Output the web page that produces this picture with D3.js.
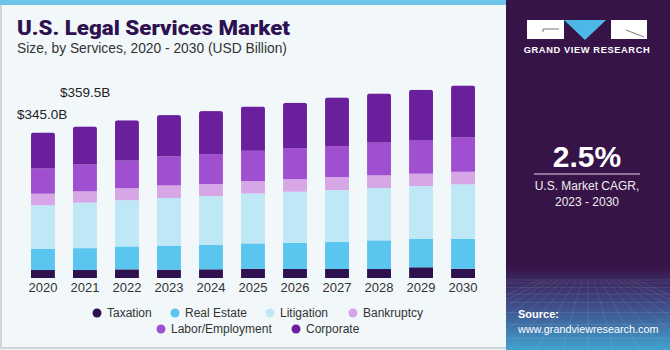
<!DOCTYPE html>
<html>
<head>
<meta charset="utf-8">
<script src="https://cdn.jsdelivr.net/npm/d3@7"></script>
<style>
  html, body { margin: 0; padding: 0; background: #fff; }
  svg { display: block; }
  text { font-family: 'Liberation Sans', Arial, sans-serif; }
</style>
</head>
<body>
<svg id="chart" width="670" height="350"></svg>
<script>
// data (USD Billion)
const years = ['2020', '2021', '2022', '2023', '2024', '2025', '2026', '2027', '2028', '2029', '2030']
const segments = ['Taxation', 'Real Estate', 'Litigation', 'Bankruptcy', 'Labor/Employment', 'Corporate']
const taxation = [18.9, 18.9, 20.5, 19.7, 20.6, 22.0, 21.3, 21.3, 21.3, 25.4, 22.0]
const realEstate = [50.3, 51.9, 54.4, 56.9, 57.6, 60.0, 62.3, 64.0, 68.0, 67.8, 71.1]
const litigation = [103.1, 107.9, 109.6, 113.0, 116.1, 118.5, 120.9, 123.2, 124.0, 124.9, 128.9]
const bankruptcy = [27.6, 26.7, 28.4, 30.0, 28.4, 29.4, 30.1, 30.8, 30.1, 29.2, 29.9]
const laborEmployment = [59.7, 63.7, 65.6, 68.7, 71.1, 71.8, 73.5, 73.5, 77.5, 79.9, 81.5]
const corporate = [85.4, 90.4, 95.5, 97.9, 101.9, 105.0, 107.4, 115.4, 116.8, 119.2, 123.2]
const valueLabels = ['$345.0B', '$359.5B']
const colors = ['#2e1250', '#5ac6ef', '#bfe8f6', '#d6a6e6', '#a14fd1', '#6a1f9c']

const series = [taxation, realEstate, litigation, bankruptcy, laborEmployment, corporate]
const rows = years.map((yr, i) => {
    const row = { year: yr }
    segments.forEach((s, j) => { row[s] = series[j][i] })
    return row
})

const svg = d3.select('#chart')
const defs = svg.append('defs')

// backgrounds
svg.append('rect').attr('width', 670).attr('height', 350).attr('fill', '#f2f8fa')
svg.append('rect').attr('x', 0).attr('y', 0).attr('width', 506).attr('height', 5).attr('fill', '#6cc5e8')
svg.append('line').attr('x1', 1).attr('x2', 1).attr('y1', 5).attr('y2', 348)
    .attr('stroke', '#cfd4d6').attr('stroke-width', 2)
svg.append('line').attr('x1', 0).attr('x2', 506).attr('y1', 348).attr('y2', 348)
    .attr('stroke', '#cfd4d6').attr('stroke-width', 2)

// title
svg.append('text').attr('x', 17).attr('y', 35)
    .style('font-family', "'Roboto', sans-serif").style('font-weight', 900)
    .style('font-size', '19.5px').attr('fill', '#2d1150')
    .attr('textLength', 273).attr('lengthAdjust', 'spacingAndGlyphs')
    .text('U.S. Legal Services Market')
svg.append('text').attr('x', 17).attr('y', 53)
    .style('font-size', '13.8px').attr('fill', '#333')
    .text('Size, by Services, 2020 - 2030 (USD Billion)')

// scales
const x = d3.scaleBand()
    .domain(years)
    .range([10, 496])
    .paddingInner(0.43)
    .paddingOuter(0.5)
const y = d3.scaleLinear()
    .domain([0, 460])
    .range([278, 84])

const stacked = d3.stack().keys(segments)(rows)

// top segment gets rounded corners via clip
years.forEach((yr, i) => {
    const top = stacked[stacked.length - 1][i][1]
    defs.append('clipPath').attr('id', 'clip-' + yr)
        .append('rect')
        .attr('x', x(yr))
        .attr('y', y(top))
        .attr('width', x.bandwidth())
        .attr('height', y(0) - y(top) + 4)
        .attr('rx', 2.5)
})

svg.append('g').selectAll('g')
    .data(stacked)
    .enter().append('g')
    .attr('fill', (d, i) => colors[i])
    .selectAll('rect')
    .data(d => d)
    .enter().append('rect')
    .attr('x', d => x(d.data.year))
    .attr('y', d => y(d[1]))
    .attr('width', x.bandwidth())
    .attr('height', d => y(d[0]) - y(d[1]))
    .attr('clip-path', d => 'url(#clip-' + d.data.year + ')')

// value labels for 2020 and 2021
const totals = rows.map(r => d3.sum(segments, s => r[s]))
svg.append('text').attr('x', 17).attr('y', y(totals[0]) - 14)
    .style('font-size', '13.5px').attr('fill', '#222').text(valueLabels[0])
svg.append('text').attr('x', 60).attr('y', y(totals[1]) - 29)
    .style('font-size', '13.5px').attr('fill', '#222').text(valueLabels[1])

// x axis
const xAxis = svg.append('g')
    .attr('transform', 'translate(0,' + y(0) + ')')
    .call(d3.axisBottom(x).tickSize(0).tickPadding(5))
xAxis.select('.domain').remove()
xAxis.selectAll('text')
    .style('font-family', "'Liberation Sans', Arial, sans-serif")
    .style('font-size', '13px').attr('fill', '#333')

// legend
const legendPos = [
    { x: 97, y: 313 }, { x: 175, y: 313 }, { x: 270, y: 313 }, { x: 353, y: 313 },
    { x: 161, y: 329 }, { x: 296, y: 329 }
]
const legend = svg.append('g').selectAll('g')
    .data(segments)
    .enter().append('g')
    .attr('transform', (d, i) => 'translate(' + legendPos[i].x + ',' + legendPos[i].y + ')')
legend.append('circle').attr('r', 4.5).attr('fill', (d, i) => colors[i])
legend.append('text').attr('x', 10).attr('y', 4.3)
    .style('font-size', '12px').attr('fill', '#333').text(d => d)

// right panel
const grad = defs.append('linearGradient').attr('id', 'panelGrad')
    .attr('x1', 0).attr('x2', 0).attr('y1', 0).attr('y2', 1)
grad.append('stop').attr('offset', '0%').attr('stop-color', '#371448')
grad.append('stop').attr('offset', '76%').attr('stop-color', '#371448')
grad.append('stop').attr('offset', '87%').attr('stop-color', '#3f4a86')
grad.append('stop').attr('offset', '100%').attr('stop-color', '#41a2d0')
svg.append('rect').attr('x', 506).attr('y', 0).attr('width', 164).attr('height', 350)
    .attr('fill', 'url(#panelGrad)')

// faint perspective grid at the bottom of the panel
const grid = svg.append('g').attr('stroke', '#ffffff').attr('stroke-opacity', 0.12).attr('stroke-width', 0.8)
d3.range(0, 9).forEach(k => {
    const gy = 280 + k * k * 0.9 + k * 2
    grid.append('line').attr('x1', 506).attr('x2', 670).attr('y1', gy).attr('y2', gy)
})
d3.range(-8, 9).forEach(k => {
    grid.append('line').attr('x1', 588 + k * 6).attr('y1', 280).attr('x2', 588 + k * 26).attr('y2', 350)
})

// logo
svg.append('rect').attr('x', 527).attr('y', 20).attr('width', 37).attr('height', 19).attr('fill', '#fff')
svg.append('path').attr('d', 'M564,20 L606,20 L585,40 Z').attr('fill', '#4bb8e8')
svg.append('rect').attr('x', 611).attr('y', 20).attr('width', 36).attr('height', 19).attr('fill', '#fff')
svg.append('path').attr('d', 'M543,29 L559,29 M543,29 L543,32').attr('stroke', '#777').attr('stroke-width', 1).attr('fill', 'none')
svg.append('path').attr('d', 'M626,30 L644,37').attr('stroke', '#777').attr('stroke-width', 1)
svg.append('text').attr('x', 587).attr('y', 53).attr('text-anchor', 'middle')
    .style('font-size', '9.3px').style('font-weight', 'bold').style('letter-spacing', '0.6px')
    .attr('fill', '#fff').text('GRAND VIEW RESEARCH')

// CAGR
svg.append('text').attr('x', 587).attr('y', 166.5).attr('text-anchor', 'middle')
    .style('font-size', '30px').style('font-weight', 'bold').attr('fill', '#fff').text('2.5%')
svg.append('line').attr('x1', 534).attr('x2', 640).attr('y1', 174).attr('y2', 174)
    .attr('stroke', '#e6d8ee').attr('stroke-width', 1)
svg.append('text').attr('x', 587).attr('y', 190).attr('text-anchor', 'middle')
    .style('font-size', '12px').attr('fill', '#eee').text('U.S. Market CAGR,')
svg.append('text').attr('x', 587).attr('y', 205.5).attr('text-anchor', 'middle')
    .style('font-size', '12px').attr('fill', '#eee').text('2023 - 2030')

// source
svg.append('text').attr('x', 518).attr('y', 318)
    .style('font-size', '11px').style('font-weight', 'bold').attr('fill', '#fff').text('Source:')
svg.append('text').attr('x', 518).attr('y', 333)
    .style('font-size', '10.8px').attr('fill', '#fff').text('www.grandviewresearch.com')
</script>
</body>
</html>
